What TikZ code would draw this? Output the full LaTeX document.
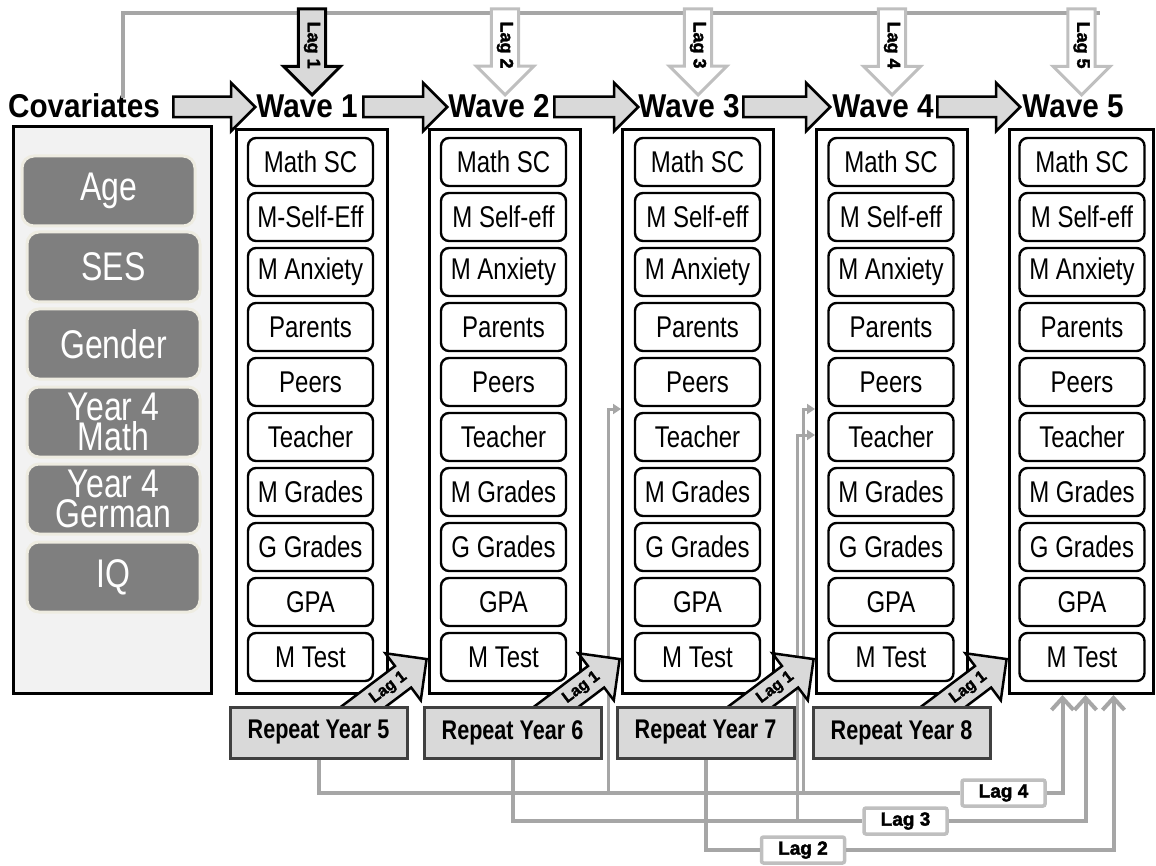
\documentclass[tikz,border=0pt]{standalone}
\usepackage{fontspec}
\setmainfont{Liberation Sans}
\newfontfamily\narrowfont[FakeStretch=0.8]{Liberation Sans}
\newfontfamily\titlefont[FakeStretch=0.9]{Liberation Sans}
\newfontfamily\heavyfont[FakeBold=2]{Liberation Sans Bold}
\definecolor{lineGray}{HTML}{A6A6A6}
\definecolor{boxGray}{HTML}{D9D9D9}
\definecolor{covGray}{HTML}{7F7F7F}
\definecolor{covEdge}{HTML}{EEECE1}
\definecolor{panelFill}{HTML}{F2F2F2}
\definecolor{repEdge}{HTML}{404040}
\definecolor{lagEdge}{HTML}{BFBFBF}
\usetikzlibrary{positioning, arrows.meta, shapes.arrows}

\begin{document}
\begin{tikzpicture}[
    x=1pt, y=-1pt,
    wavebox/.style={draw, line width=3pt, anchor=north west, inner sep=0pt,
        minimum width=151pt, minimum height=564pt},
    itembox/.style={draw, rounded corners=8pt, line width=2.4pt, fill=white,
        inner sep=0pt, minimum width=125pt, minimum height=48pt,
        font=\narrowfont\fontsize{30}{32}\selectfont},
    covitem/.style={draw=covEdge, rounded corners=12pt, line width=3pt,
        fill=covGray, text=white, inner sep=0pt, align=center,
        minimum width=173pt, minimum height=70pt,
        font=\narrowfont\fontsize{40}{30}\selectfont},
    wavetitle/.style={anchor=base, inner sep=0pt,
        font=\titlefont\bfseries\fontsize{33}{35}\selectfont},
    % wide grey arrows between the waves
    flowarrow/.style={single arrow, draw, fill=boxGray, line width=2.5pt,
        inner sep=9pt, single arrow head extend=14pt, anchor=tail},
    % lag arrows hanging from the top line
    lagdown/.style={single arrow, draw=lagEdge, fill=white, line width=3pt,
        inner sep=4pt, single arrow head extend=15pt,
        minimum height=86pt, rotate=-90, anchor=tip,
        font=\heavyfont\fontsize{18}{18}\selectfont},
    % repeat year -> next wave
    lagup/.style={single arrow, draw, fill=boxGray, line width=2.5pt,
        inner sep=5pt, single arrow head extend=16pt,
        minimum height=104pt, rotate=37, anchor=tip,
        font=\heavyfont\fontsize{16}{16}\selectfont},
    repbox/.style={draw=repEdge, fill=boxGray, line width=3pt, inner sep=0pt,
        minimum width=177pt, minimum height=51pt,
        font=\narrowfont\bfseries\fontsize{27}{29}\selectfont},
    lagbox/.style={draw=lagEdge, fill=white, line width=3.5pt,
        rounded corners=2pt, inner sep=0pt,
        minimum width=83pt, minimum height=26pt,
        font=\heavyfont\fontsize{19}{19}\selectfont},
    conn/.style={draw=lineGray, line width=4pt},
    barb/.style={-{Straight Barb[length=12pt, width=22pt]}},
    branch/.style={draw=lineGray, line width=3pt,
        -{Triangle[length=8pt, width=10pt]}},
]
\useasboundingbox (0,0) rectangle (1156,866);

%% ---------------------------------------------------------------
%% titles and wave boxes
%% ---------------------------------------------------------------
\node[wavetitle] (covtitle) at (84,118) {Covariates};
\node[wavetitle] (t1) at (307,118) {Wave 1};
\node[wavetitle] (t2) at (499,118) {Wave 2};
\node[wavetitle] (t3) at (689,118) {Wave 3};
\node[wavetitle] (t4) at (883,118) {Wave 4};
\node[wavetitle] (t5) at (1073,118) {Wave 5};

\node[wavebox] (w1) at (235,128) {};
\node[wavebox] (w2) at (428,128) {};
\node[wavebox] (w3) at (621,128) {};
\node[wavebox] (w4) at (815,128) {};
\node[wavebox, minimum width=144pt] (w5) at (1008,128) {};

% top line from the covariates to every wave
\coordinate (topend) at (1100,13);
\draw[conn] ([yshift=-4pt]covtitle.north -| 123,0) |- (topend);

\node[lagdown, draw=black, fill=boxGray] (l1) at (w1.north |- 0,97) {Lag 1};
\node[lagdown] (l2) at (w2.north |- 0,97) {Lag 2};
\node[lagdown] (l3) at (w3.north |- 0,97) {Lag 3};
\node[lagdown] (l4) at (w4.north |- 0,97) {Lag 4};
\node[lagdown] (l5) at (w5.north |- 0,97) {Lag 5};

\node[flowarrow, minimum height=82pt] (fa0) at (172,107) {};
\node[flowarrow, minimum height=84pt] (fa1) at (362,107) {};
\node[flowarrow, minimum height=84pt] (fa2) at (553,107) {};
\node[flowarrow, minimum height=87pt] (fa3) at (742,107) {};
\node[flowarrow, minimum height=83pt] (fa4) at (936,107) {};

%% ---------------------------------------------------------------
%% covariates
%% ---------------------------------------------------------------
\node[draw, line width=3pt, fill=panelFill, anchor=north west, inner sep=0pt,
      minimum width=198pt, minimum height=567pt] (covbox) at (12,125) {};
\node[covitem] (age) at (108.5,191) {Age};
\node[covitem] (ses) at (113.5,267) {SES};
\node[covitem] (gender) at (113.5,344) {Gender};
\node[covitem] (ymath) at (113.5,422) {Year 4\\Math};
\node[covitem] (ygerman) at (113.5,499) {Year 4\\German};
\node[covitem] (iq) at (113.5,577) {IQ};

%% ---------------------------------------------------------------
%% measures per wave
%% ---------------------------------------------------------------
\foreach \lbl [count=\k from 0] in {Math SC, M-Self-Eff, M Anxiety, Parents,
    Peers, Teacher, M Grades, G Grades, GPA, M Test}
  \node[itembox] (w1r\k) at (310.5,162+55*\k) {\lbl};
\foreach \w/\x in {2/503.5, 3/697.5, 4/891, 5/1082}
  \foreach \lbl [count=\k from 0] in {Math SC, M Self-eff, M Anxiety, Parents,
      Peers, Teacher, M Grades, G Grades, GPA, M Test}
    \node[itembox] (w\w r\k) at (\x,162+55*\k) {\lbl};

%% ---------------------------------------------------------------
%% repeat years and the long lags
%% ---------------------------------------------------------------
\node[repbox] (rep5) at (318.5,732.5) {Repeat Year 5};
\node[repbox] (rep6) at (512.5,732.5) {Repeat Year 6};
\node[repbox] (rep7) at (705.5,732.5) {Repeat Year 7};
\node[repbox] (rep8) at (901.5,732.5) {Repeat Year 8};

\node[lagbox] (lagfour) at (1003.5,793) {Lag 4};
\node[lagbox] (lagthree) at (905.5,821) {Lag 3};
\node[lagbox] (lagtwo) at (803,850) {Lag 2};

\coordinate (tapthree) at (608,793);
\coordinate (tapfourA) at (803,793);
\coordinate (tapfourB) at (797,821);

\draw[conn] (rep5.south) |- (lagfour.west);
\draw[conn] (rep6.south) |- (lagthree.west);
\draw[conn] (rep7.south) |- (lagtwo.west);
\draw[conn, barb] (lagfour.east) -| ([xshift=-19pt]w5.south);
\draw[conn, barb] (lagthree.east) -| ([xshift=4pt]w5.south);
\draw[conn, barb] (lagtwo.east) -| ([xshift=32pt]w5.south);

\draw[branch] (tapthree) |- (w3.west |- 0,409);
\draw[branch] (tapfourA) |- (w4.west |- 0,409);
\draw[branch] (tapfourB) |- (w4.west |- 0,435);

% lag 1 from each repeat year into the next wave
\node[lagup] (d5) at (w2.west |- 0,658) {\hspace{22pt}Lag 1};
\node[lagup] (d6) at (w3.west |- 0,658) {\hspace{22pt}Lag 1};
\node[lagup] (d7) at (w4.west |- 0,658) {\hspace{22pt}Lag 1};
\node[lagup] (d8) at (w5.west |- 0,658) {\hspace{22pt}Lag 1};

% repeat boxes again on top of the arrow tails
\foreach \r in {5,6,7,8}
  \node[repbox] at (rep\r) {Repeat Year \r};

\end{tikzpicture}
\end{document}
